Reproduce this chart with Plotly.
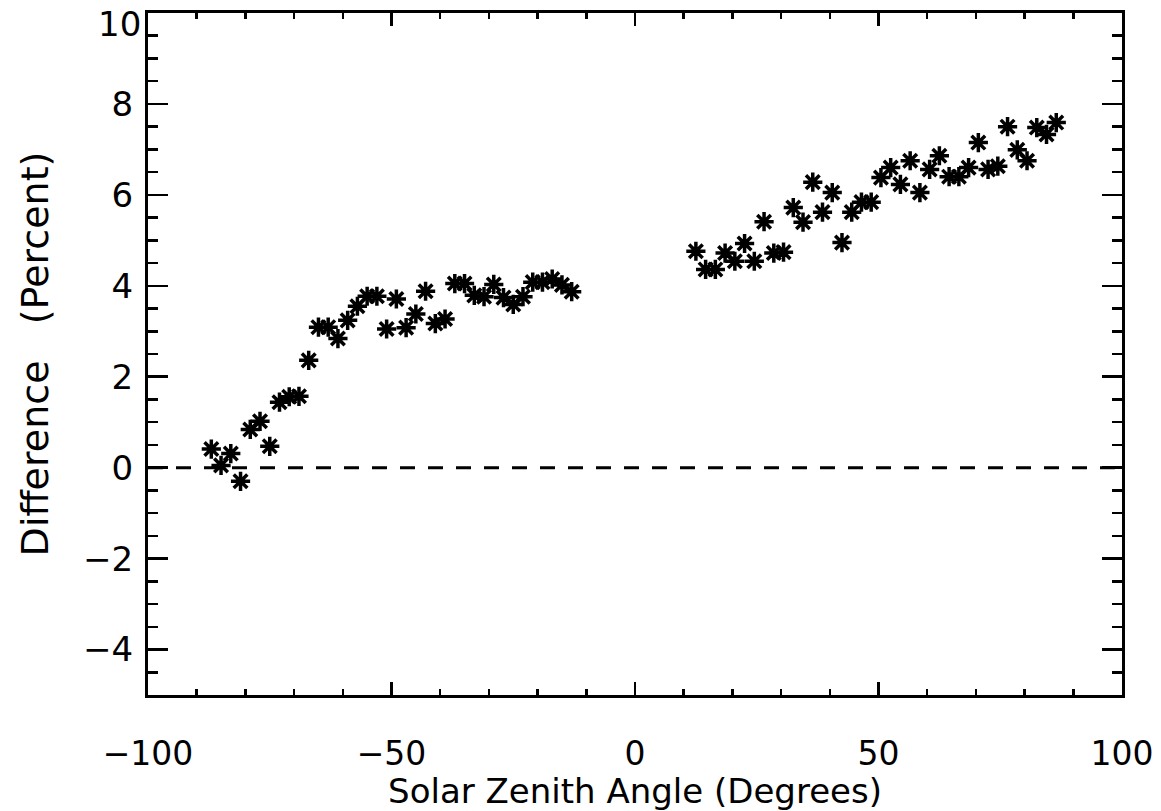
import plotly.graph_objects as go

# Left branch (negative solar zenith angles)
left_angle = [-87, -85, -83, -81, -79, -77, -75, -73, -71, -69, -67, -65, -63, -61,
              -59, -57, -55, -53, -51, -49, -47, -45, -43, -41, -39, -37, -35, -33,
              -31, -29, -27, -25, -23, -21, -19, -17, -15, -13]
left_diff = [0.41, 0.05, 0.31, -0.30, 0.84, 1.02, 0.47, 1.44, 1.56, 1.57, 2.36, 3.09,
             3.09, 2.84, 3.24, 3.55, 3.77, 3.77, 3.05, 3.71, 3.08, 3.38, 3.88, 3.17,
             3.27, 4.05, 4.05, 3.79, 3.76, 4.03, 3.74, 3.59, 3.76, 4.08, 4.08, 4.15,
             4.02, 3.87]

# Right branch (positive solar zenith angles)
right_angle = [12.5, 14.5, 16.5, 18.5, 20.5, 22.5, 24.5, 26.5, 28.5, 30.5, 32.5, 34.5,
               36.5, 38.5, 40.5, 42.5, 44.5, 46.5, 48.5, 50.5, 52.5, 54.5, 56.5, 58.5,
               60.5, 62.5, 64.5, 66.5, 68.5, 70.5, 72.5, 74.5, 76.5, 78.5, 80.5, 82.5,
               84.5, 86.5]
right_diff = [4.76, 4.36, 4.36, 4.72, 4.54, 4.93, 4.54, 5.41, 4.72, 4.74, 5.72, 5.40,
              6.28, 5.62, 6.05, 4.95, 5.62, 5.84, 5.84, 6.38, 6.60, 6.23, 6.75, 6.05,
              6.56, 6.86, 6.40, 6.40, 6.60, 7.15, 6.56, 6.63, 7.50, 6.99, 6.75, 7.48,
              7.33, 7.59]

x_range = [-100, 100]
y_range = [-5, 10]
x_ticks = [-100, -50, 0, 50, 100]
y_ticks = [-4, -2, 0, 2, 4, 6, 8, 10]
y_ticktext = ["\u22124", "\u22122", "0", "2", "4", "6", "8", ""]
top_label = "10"

font_family = "DejaVu Sans"

marker = dict(symbol="asterisk-open", size=16, color="black",
              line=dict(color="black", width=3.5))

fig = go.Figure()
fig.add_trace(go.Scatter(x=left_angle, y=left_diff, mode="markers", marker=marker,
                         showlegend=False, hoverinfo="skip"))
fig.add_trace(go.Scatter(x=right_angle, y=right_diff, mode="markers", marker=marker,
                         showlegend=False, hoverinfo="skip"))

fig.add_shape(type="line", x0=x_range[0], x1=x_range[1], y0=0, y1=0,
              xref="x", yref="y",
              line=dict(color="black", width=3, dash="15px,13px"))

# top y tick label sits just below the frame's top edge, as in the original
fig.add_annotation(x=0, xref="paper", xanchor="right", xshift=-5,
                   y=y_ticks[-1], yref="y", yanchor="top", yshift=11,
                   text=top_label, showarrow=False,
                   font=dict(family=font_family, size=34, color="black"))

axis_common = dict(showgrid=False, zeroline=False, showline=True, linecolor="black",
                   linewidth=3, mirror="allticks", ticks="inside", tickcolor="black",
                   tickwidth=2.5, automargin=False)

fig.update_xaxes(range=x_range, tickvals=x_ticks, ticklen=13,
                 minor=dict(dtick=10, ticklen=6, ticks="inside", tickcolor="black",
                            tickwidth=2.5),
                 tickfont=dict(family=font_family, size=33, color="black"),
                 title=dict(text="Solar Zenith Angle (Degrees)",
                            font=dict(family=font_family, size=34, color="black"),
                            standoff=13),
                 ticklabelstandoff=27,
                 **axis_common)
fig.update_yaxes(range=y_range, tickvals=y_ticks, ticktext=y_ticktext, ticklen=20,
                 minor=dict(dtick=0.5, ticklen=10, ticks="inside", tickcolor="black",
                            tickwidth=2.5),
                 tickfont=dict(family=font_family, size=34, color="black"),
                 title=dict(text="Difference   (Percent)",
                            font=dict(family=font_family, size=38, color="black"),
                            standoff=23),
                 ticklabelstandoff=5,
                 **axis_common)

fig.update_layout(width=1161, height=811, plot_bgcolor="white", paper_bgcolor="white",
                  margin=dict(l=148, r=39, t=13, b=116), showlegend=False,
                  hovermode=False)

fig.write_html("out.html", config={"displayModeBar": False, "staticPlot": True},
               post_script="document.body.style.margin='0';"
                           "document.body.style.overflow='hidden';")
